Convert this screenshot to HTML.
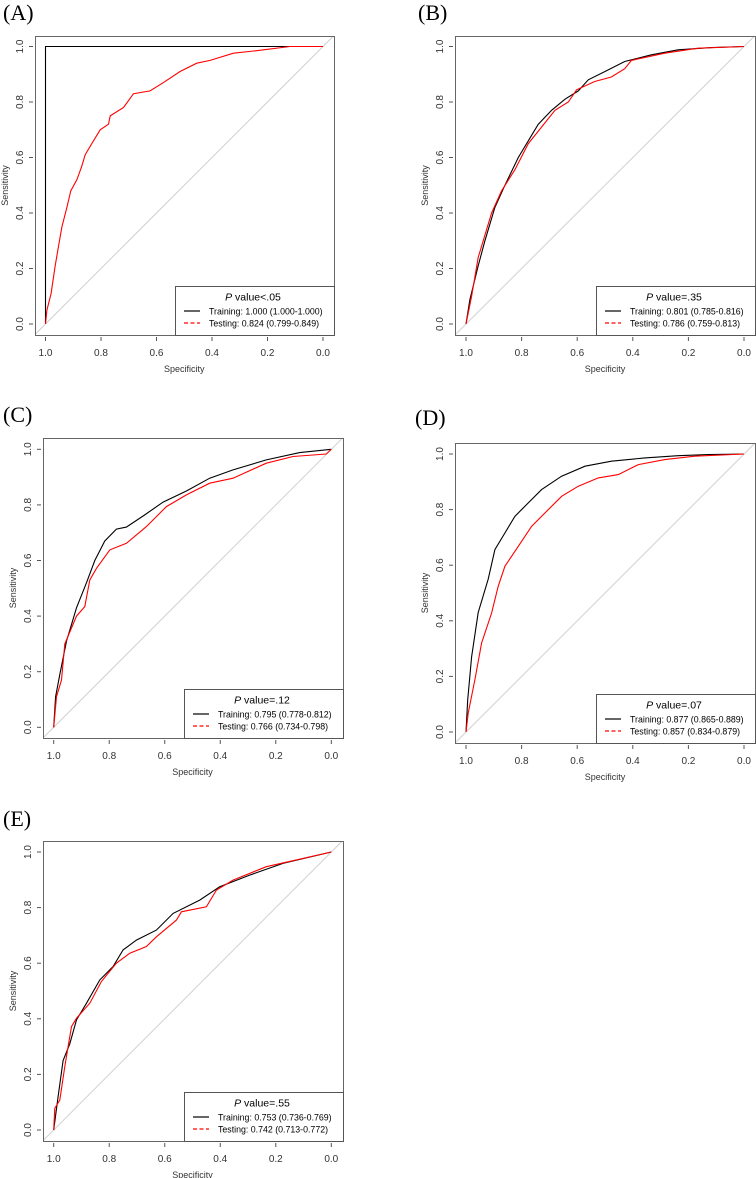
<!DOCTYPE html>
<html><head><meta charset="utf-8"><style>
html,body{margin:0;padding:0;background:#fff;}
svg{display:block;font-family:"Liberation Sans",Arial,sans-serif;}
</style></head><body>
<svg id="fig" width="756" height="1178" viewBox="0 0 756 1178"></svg>
<script>
// ---- data: [specificity, sensitivity] pairs ----
const panelLabels = ["(A)","(B)","(C)","(D)","(E)"];
const pValues = ["<.05","=.35","=.12","=.07","=.55"];
const trainingAUC = ["1.000 (1.000-1.000)","0.801 (0.785-0.816)","0.795 (0.778-0.812)","0.877 (0.865-0.889)","0.753 (0.736-0.769)"];
const testingAUC = ["0.824 (0.799-0.849)","0.786 (0.759-0.813)","0.766 (0.734-0.798)","0.857 (0.834-0.879)","0.742 (0.713-0.772)"];
const xTicks = [1.0,0.8,0.6,0.4,0.2,0.0];
const yTicks = [0.0,0.2,0.4,0.6,0.8,1.0];
const trainA = [[1,0],[1,1],[0,1]];
const testA = [[1,0],[0.995,0.05],[0.98,0.11],[0.965,0.21],[0.953,0.28],[0.941,0.35],[0.923,0.42],[0.909,0.48],[0.887,0.52],[0.869,0.57],[0.857,0.61],[0.833,0.65],[0.803,0.70],[0.773,0.72],[0.767,0.75],[0.719,0.78],[0.683,0.83],[0.623,0.84],[0.575,0.87],[0.515,0.91],[0.455,0.94],[0.407,0.95],[0.323,0.976],[0.239,0.985],[0.119,1.0],[0,1]];
const trainB = [[1,0],[0.986,0.088],[0.956,0.21],[0.932,0.30],[0.896,0.42],[0.86,0.50],[0.812,0.60],[0.764,0.68],[0.74,0.72],[0.692,0.77],[0.644,0.81],[0.596,0.84],[0.56,0.88],[0.50,0.91],[0.429,0.946],[0.333,0.97],[0.237,0.988],[0.117,0.996],[0,1]];
const testB = [[1,0],[0.98,0.10],[0.956,0.24],[0.908,0.40],[0.872,0.48],[0.824,0.556],[0.776,0.65],[0.728,0.71],[0.68,0.77],[0.632,0.80],[0.602,0.844],[0.537,0.874],[0.477,0.89],[0.429,0.92],[0.405,0.95],[0.285,0.976],[0.165,0.994],[0,1]];
const trainC = [[1,0],[0.993,0.11],[0.978,0.19],[0.954,0.31],[0.918,0.43],[0.882,0.52],[0.852,0.60],[0.816,0.67],[0.774,0.713],[0.738,0.72],[0.678,0.76],[0.606,0.81],[0.522,0.85],[0.438,0.896],[0.354,0.926],[0.234,0.962],[0.114,0.988],[0,1]];
const testC = [[1,0],[0.99,0.11],[0.972,0.17],[0.96,0.30],[0.918,0.40],[0.888,0.434],[0.87,0.53],[0.846,0.572],[0.798,0.638],[0.738,0.662],[0.666,0.722],[0.594,0.794],[0.522,0.836],[0.438,0.878],[0.354,0.896],[0.234,0.95],[0.138,0.974],[0.018,0.983],[0,1]];
const trainD = [[1,0],[0.994,0.116],[0.98,0.27],[0.956,0.43],[0.92,0.55],[0.896,0.656],[0.86,0.716],[0.824,0.776],[0.776,0.824],[0.728,0.872],[0.656,0.92],[0.572,0.956],[0.477,0.974],[0.357,0.986],[0.237,0.994],[0.129,0.998],[0,1]];
const testD = [[1,0],[0.992,0.068],[0.968,0.188],[0.944,0.32],[0.908,0.428],[0.884,0.524],[0.86,0.596],[0.812,0.668],[0.764,0.74],[0.716,0.788],[0.656,0.848],[0.596,0.884],[0.524,0.914],[0.452,0.926],[0.38,0.962],[0.285,0.98],[0.177,0.992],[0,1]];
const trainE = [[1,0],[0.984,0.12],[0.966,0.25],[0.942,0.31],[0.918,0.396],[0.882,0.456],[0.834,0.54],[0.786,0.588],[0.75,0.648],[0.702,0.683],[0.63,0.719],[0.57,0.779],[0.474,0.827],[0.402,0.875],[0.294,0.917],[0.174,0.959],[0,1]];
const testE = [[1,0],[0.996,0.078],[0.978,0.108],[0.96,0.228],[0.948,0.30],[0.936,0.372],[0.918,0.402],[0.87,0.456],[0.828,0.534],[0.774,0.60],[0.726,0.636],[0.666,0.66],[0.63,0.695],[0.558,0.755],[0.54,0.785],[0.45,0.803],[0.414,0.863],[0.354,0.899],[0.234,0.947],[0,1]];
const trainSeries = [trainA,trainB,trainC,trainD,trainE];
const testSeries = [testA,testB,testC,testD,testE];

// ---- layout (pixel geometry, not data) ----
const layout = [
 {bx:35,by:36,bw:299,bh:299,x1:45.5,x0:323,y1:46.5,y0:324,lx:3,ly:20},
 {bx:455,by:36,bw:300,bh:299,x1:466,x0:744,y1:46.5,y0:324,lx:418,ly:20},
 {bx:43,by:438,bw:300,bh:300,x1:53.7,x0:331.3,y1:449.3,y0:727.3,lx:3,ly:422},
 {bx:455,by:443,bw:300,bh:300,x1:466,x0:744,y1:454,y0:732,lx:415,ly:425},
 {bx:43,by:841,bw:300,bh:300,x1:53.7,x0:331.3,y1:852,y0:1130,lx:3,ly:826}
];
const NS="http://www.w3.org/2000/svg";
const svg=document.getElementById('fig');
function mk(tag,attrs,parent){const e=document.createElementNS(NS,tag);for(const k in attrs)e.setAttribute(k,attrs[k]);(parent||svg).appendChild(e);return e;}

layout.forEach((L,i)=>{
  const g=mk('g',{});
  
  
  const sx=v=>L.x0+(L.x1-L.x0)*v;
  const sy=v=>L.y0+(L.y1-L.y0)*v;
  const lab=mk('text',{x:L.lx,y:L.ly,'font-family':'Liberation Serif, serif','font-size':22,fill:'#000'},g);
  lab.textContent=panelLabels[i];
  
  
  const cid='clip'+i;
  const cp=mk('clipPath',{id:cid},g);mk('rect',{x:L.bx,y:L.by,width:L.bw,height:L.bh},cp);
  const diag=mk('line',{x1:sx(1.05),y1:sy(-0.05),x2:sx(-0.05),y2:sy(1.05),stroke:'#d0d0d0','stroke-width':1,'clip-path':'url(#'+cid+')'},g);
  
  
  const path=s=>s.map((p,j)=>(j?'L':'M')+sx(p[0]).toFixed(1)+','+sy(p[1]).toFixed(1)).join('');
  const tr=mk('path',{d:path(trainSeries[i]),fill:'none',stroke:'#000','stroke-width':1.1},g);
  
  
  const te=mk('path',{d:path(testSeries[i]),fill:'none',stroke:'#ff0000','stroke-width':1.1},g);
  
  
  const box=mk('rect',{x:L.bx+0.5,y:L.by+0.5,width:L.bw,height:L.bh,fill:'none',stroke:'#666','stroke-width':1},g);
  
  
  xTicks.forEach(t=>{
    mk('line',{x1:sx(t),y1:L.by+L.bh+2,x2:sx(t),y2:L.by+L.bh+6,stroke:'#555'},g);
    const tx=mk('text',{x:sx(t),y:L.by+L.bh+21,'text-anchor':'middle','font-size':10,fill:'#333'},g);
    tx.textContent=t.toFixed(1);
    
    
  });
  yTicks.forEach(t=>{
    mk('line',{x1:L.bx-6,y1:sy(t),x2:L.bx-2,y2:sy(t),stroke:'#555'},g);
    const ty=mk('text',{x:0,y:0,'text-anchor':'middle','font-size':10,fill:'#333',transform:'translate('+(L.bx-12)+','+sy(t)+') rotate(-90)'},g);
    ty.textContent=t.toFixed(1);
    
    
  });
  const xt=mk('text',{x:(L.x0+L.x1)/2,y:L.by+L.bh+37,'text-anchor':'middle','font-size':9,fill:'#333'},g);
  xt.textContent='Specificity';
  
  
  const yt=mk('text',{x:0,y:0,'text-anchor':'middle','font-size':9,fill:'#333',transform:'translate('+(L.bx-27)+','+(L.by+L.bh/2)+') rotate(-90)'},g);
  yt.textContent='Sensitivity';
  
  
  const lg=mk('g',{},g);
  
  
  const lx=L.bx+L.bw-159, ly=L.by+L.bh-49;
  mk('rect',{x:lx+0.5,y:ly+0.5,width:159,height:49,fill:'#fff',stroke:'#555'},lg);
  const tt=mk('text',{x:lx+78,y:ly+14.5,'text-anchor':'middle','font-size':10.5,fill:'#000'},lg);
  tt.innerHTML='<tspan font-style="italic">P</tspan> value'+pValues[i];
  
  
  mk('line',{x1:lx+9,y1:ly+25,x2:lx+25,y2:ly+25,stroke:'#000','stroke-width':1.2},lg);
  mk('line',{x1:lx+9,y1:ly+37,x2:lx+25,y2:ly+37,stroke:'#ff0000','stroke-width':1.2,'stroke-dasharray':'4,2.5'},lg);
  const e1=mk('text',{x:lx+34,y:ly+28.5,'font-size':8.8,fill:'#000'},lg);
  e1.textContent='Training: '+trainingAUC[i];
  
  
  const e2=mk('text',{x:lx+34,y:ly+40.5,'font-size':8.8,fill:'#000'},lg);
  e2.textContent='Testing: '+testingAUC[i];
  
  
});
</script>
</body></html>
